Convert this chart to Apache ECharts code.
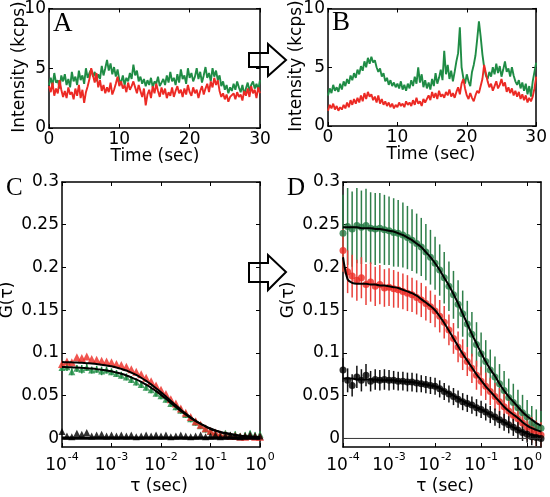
<!DOCTYPE html>
<html><head><meta charset="utf-8">
<script src="https://cdn.jsdelivr.net/npm/echarts@6/dist/echarts.min.js"></script>
<style>html,body{margin:0;padding:0;background:#fff}#c{width:550px;height:497px}</style>
</head><body><div id="c"></div>
<script>
// ---------- Panel A / B : intensity traces (kcps), sampled every 0.25 s from 0 to 30 s ----------
const timeStep = 0.25;
const timeTicks = [0, 10, 20, 30];
const intensityTicks = [0, 5, 10];
const greenA = [3.6,4.2,3.5,4.6,3.8,4.0,3.3,4.4,3.9,
 4.5,3.6,4.1,3.4,4.7,3.9,4.3,3.6,
 4.8,4.0,4.4,3.7,5.0,4.2,4.6,4.9,
 4.3,4.7,3.9,4.5,4.1,5.2,4.4,5.0,
 5.7,4.8,5.4,4.5,5.1,4.3,4.9,4.0,
 3.8,4.4,3.6,4.2,3.9,4.6,4.1,5.3,
 4.4,4.8,3.9,4.3,3.7,4.1,3.5,4.0,
 3.6,4.2,3.4,3.9,3.7,4.3,3.5,3.8,
 4.1,3.6,4.4,3.8,4.7,3.9,4.2,3.6,
 4.5,3.8,4.9,4.1,4.4,3.7,5.0,4.2,
 4.6,3.9,4.3,5.0,4.1,4.7,3.8,4.4,
 5.1,4.2,4.6,3.9,5.0,4.3,4.8,4.0,
 4.4,3.5,3.9,3.2,3.6,2.9,3.4,3.1,
 3.7,3.2,3.9,3.4,3.0,3.6,2.8,3.3,
 3.8,3.1,3.6,3.9,3.3,3.7,3.2,4.0];
const redA = [3.5,3.0,3.8,2.7,3.3,2.9,4.0,3.2,2.6,
 3.1,2.5,3.4,2.8,3.0,2.4,3.3,2.7,
 3.6,2.5,3.2,2.1,3.0,3.5,4.1,5.0,
 4.4,3.8,4.6,3.4,4.0,3.1,3.6,2.9,
 3.4,3.0,3.8,2.8,3.2,3.7,4.3,3.5,
 3.9,3.3,3.6,3.0,3.8,3.2,3.5,3.9,
 3.4,2.9,3.6,3.1,2.6,3.3,1.9,2.8,
 3.2,2.5,3.5,2.9,3.7,3.1,2.6,3.4,
 2.8,3.3,2.5,3.0,2.7,3.4,2.6,3.1,
 3.5,2.9,3.2,2.6,3.3,2.8,3.6,3.0,
 2.7,3.4,2.9,3.2,2.5,3.1,3.5,2.8,
 3.3,3.7,3.0,3.9,3.4,4.2,3.6,4.0,
 3.1,2.6,2.9,2.4,2.8,2.2,2.6,2.5,
 2.9,2.4,3.0,2.6,2.8,2.3,3.1,2.7,
 3.3,2.6,3.5,2.9,3.2,2.5,3.4,2.9];
const greenB = [2.6,3.2,2.8,3.5,3.0,3.3,2.9,3.6,3.1,
 3.8,3.4,4.0,3.6,4.3,3.9,4.5,4.1,
 4.8,4.4,5.1,4.7,5.5,5.0,5.8,5.3,
 5.9,5.4,5.6,5.0,4.6,4.9,4.2,4.5,
 3.8,4.1,3.5,3.9,3.4,3.7,3.3,3.6,
 3.2,3.8,3.1,3.5,3.0,3.6,3.2,3.9,
 3.4,4.2,3.6,5.0,3.7,4.4,3.3,3.9,
 3.2,3.7,3.1,4.0,3.4,4.5,3.6,4.1,
 4.8,3.9,6.4,4.4,5.2,4.0,4.7,3.8,
 4.6,5.5,6.2,8.4,5.0,4.1,3.6,4.4,
 3.8,3.4,4.6,5.2,6.0,7.4,8.9,7.6,
 6.1,5.0,4.3,4.0,4.6,4.2,5.0,4.4,
 5.3,4.5,5.1,4.2,4.8,5.5,4.6,4.9,
 4.2,5.0,4.3,3.8,3.5,3.9,3.2,3.7,
 3.0,3.6,2.7,3.4,2.5,3.8,4.6,5.4];
const redB = [1.3,1.8,1.5,1.9,1.4,1.7,1.3,1.6,1.4,
 1.8,1.5,2.0,1.6,2.2,1.8,2.3,1.9,
 2.4,2.0,2.6,2.1,2.8,2.3,2.9,2.5,
 2.7,2.2,2.5,2.0,2.6,1.9,2.3,1.8,
 2.1,1.7,2.0,1.6,1.9,1.5,1.8,1.6,
 2.0,1.7,1.9,1.6,2.1,1.8,2.0,1.7,
 2.2,1.8,2.4,1.9,2.1,1.7,2.3,2.0,
 2.1,2.6,2.2,2.9,2.4,2.8,2.3,3.0,
 2.5,2.7,2.4,2.9,2.6,3.1,2.5,2.8,
 2.4,2.9,3.3,2.7,3.6,4.0,3.2,2.6,
 2.3,2.8,2.4,2.1,2.6,3.0,2.8,3.4,
 4.0,5.2,4.5,3.8,3.3,3.6,3.0,3.4,
 3.8,3.2,3.5,4.0,3.4,3.7,2.9,3.3,
 2.8,3.2,2.6,3.0,2.5,2.9,2.3,2.7,
 2.2,2.6,2.0,2.4,2.1,2.5,3.2,4.2];

// ---------- Panel C / D : correlation curves ----------
const tauValues = [1e-4,1.26e-4,1.58e-4,2e-4,2.51e-4,3.16e-4,3.98e-4,5.01e-4,6.31e-4,7.94e-4,
 1e-3,1.26e-3,1.58e-3,2e-3,2.51e-3,3.16e-3,3.98e-3,5.01e-3,6.31e-3,7.94e-3,
 1e-2,1.26e-2,1.58e-2,2e-2,2.51e-2,3.16e-2,3.98e-2,5.01e-2,6.31e-2,7.94e-2,
 0.1,0.126,0.158,0.2,0.251,0.316,0.398,0.501,0.631,0.794,
 1,1.26,1.58,2];
const tauTicks = [1e-4,1e-3,1e-2,1e-1,1];
const gTicks = [0,0.05,0.1,0.15,0.2,0.25,0.3];

const redC = [0.087,0.090,0.089,0.095,0.094,0.096,0.093,0.092,0.091,0.090,
 0.089,0.087,0.086,0.084,0.081,0.078,0.075,0.071,0.067,0.062,
 0.057,0.052,0.046,0.041,0.035,0.030,0.025,0.020,0.016,0.012,
 0.009,0.007,0.005,0.004,0.003,0.003,0.002,0.002,0.003,0.002,0.002];
const greenC = [0.083,0.084,0.078,0.082,0.081,0.083,0.080,0.081,0.079,0.080,
 0.078,0.076,0.074,0.072,0.069,0.066,0.063,0.060,0.057,0.053,
 0.050,0.046,0.041,0.037,0.033,0.028,0.023,0.019,0.015,0.011,
 0.008,0.006,0.005,0.006,0.004,0.005,0.003,0.004,0.006,0.004,0.005];
const greenCErr = [0.004,0.005,0.004,0.004,0.005,0.004,0.004,0.004,0.005,0.004,
 0.004,0.004,0.004,0.004,0.004,0.004,0.004,0.004,0.004,0.004,
 0.004,0.004,0.004,0.004,0.004,0.004,0.004,0.004,0.004,0.004,
 0.003,0.003,0.003,0.003,0.003,0.003,0.003,0.003,0.003,0.003,0.003];
const blackC = [0.008,0.003,0.002,0.006,0.005,0.007,0.003,0.004,0.005,0.003,
 0.004,0.003,0.004,0.003,0.004,0.002,0.003,0.004,0.003,0.004,
 0.003,0.004,0.002,0.003,0.004,0.003,0.002,0.003,0.004,0.002,
 0.003,0.004,0.002,0.003,0.004,0.003,0.002,0.003,0.004,0.003,0.003];
const redCFit = [0.0894,0.0892,0.0890,0.0888,0.0885,0.0881,0.0876,0.0870,0.0862,0.0854,
 0.0844,0.0830,0.0814,0.0795,0.0771,0.0743,0.0710,0.0674,0.0633,0.0588,
 0.0540,0.0490,0.0438,0.0387,0.0337,0.0290,0.0247,0.0207,0.0172,0.0142,
 0.0117,0.0095,0.0077,0.0063,0.0051,0.0041,0.0033,0.0026,0.0021,0.0017,0.0013];
const greenCFit = [0.0835,0.0834,0.0832,0.0830,0.0826,0.0822,0.0817,0.0811,0.0803,0.0795,
 0.0785,0.0771,0.0756,0.0737,0.0715,0.0690,0.0661,0.0629,0.0593,0.0553,
 0.0510,0.0464,0.0416,0.0368,0.0322,0.0280,0.0240,0.0203,0.0170,0.0140,
 0.0110,0.0090,0.0073,0.0060,0.0049,0.0040,0.0032,0.0026,0.0021,0.0016,0.0012];
const blackCFit = [0.001,0.001];
const blackCFitTau = [1e-4,1];

const greenD = [0.240,0.248,0.245,0.249,0.247,0.249,0.246,0.245,0.246,0.244,
 0.243,0.241,0.240,0.238,0.235,0.232,0.228,0.224,0.218,0.212,
 0.205,0.197,0.188,0.178,0.168,0.157,0.146,0.134,0.122,0.110,
 0.099,0.090,0.080,0.072,0.064,0.056,0.048,0.042,0.036,0.030,
 0.025,0.018,0.014,0.012];
const greenDErr = [0.045,0.045,0.044,0.044,0.043,0.043,0.042,0.042,0.041,0.041,
 0.040,0.040,0.039,0.038,0.037,0.036,0.035,0.034,0.033,0.032,
 0.031,0.030,0.030,0.029,0.028,0.028,0.027,0.027,0.026,0.026,
 0.025,0.025,0.024,0.024,0.023,0.023,0.022,0.022,0.021,0.021,
 0.020,0.020,0.020,0.020];
const redD = [0.220,0.195,0.190,0.185,0.188,0.180,0.183,0.178,0.180,0.176,
 0.177,0.175,0.174,0.172,0.170,0.168,0.165,0.162,0.158,0.154,
 0.149,0.143,0.136,0.127,0.117,0.107,0.098,0.090,0.082,0.074,
 0.067,0.061,0.055,0.049,0.043,0.037,0.032,0.027,0.023,0.018,
 0.013,0.010,0.006,0.004];
const redDErr = [0.025,0.025,0.025,0.024,0.024,0.024,0.023,0.023,0.023,0.022,
 0.022,0.022,0.021,0.021,0.021,0.020,0.020,0.020,0.020,0.019,
 0.019,0.019,0.019,0.018,0.018,0.018,0.018,0.017,0.017,0.017,
 0.017,0.016,0.016,0.016,0.016,0.016,0.015,0.015,0.015,0.015,
 0.015,0.015,0.015,0.015];
const blackD = [0.080,0.068,0.062,0.072,0.068,0.074,0.067,0.069,0.068,0.069,
 0.068,0.068,0.067,0.067,0.066,0.066,0.065,0.064,0.063,0.062,
 0.061,0.058,0.055,0.052,0.049,0.046,0.043,0.041,0.039,0.036,
 0.034,0.031,0.028,0.025,0.022,0.019,0.016,0.013,0.010,0.007,
 0.005,0.002,0.001,0.000];
const blackDErr = [0.014,0.014,0.013,0.013,0.013,0.013,0.012,0.012,0.012,0.012,
 0.012,0.011,0.011,0.011,0.011,0.011,0.011,0.010,0.010,0.010,
 0.010,0.010,0.010,0.010,0.010,0.010,0.010,0.010,0.010,0.010,
 0.010,0.010,0.010,0.010,0.010,0.010,0.010,0.010,0.010,0.010,
 0.010,0.010,0.010,0.010];
const greenDFit = [0.247,0.247,0.247,0.247,0.246,0.246,0.246,0.245,0.245,0.244,
 0.243,0.242,0.240,0.238,0.235,0.232,0.228,0.224,0.218,0.212,
 0.205,0.197,0.188,0.179,0.169,0.158,0.146,0.134,0.122,0.111,
 0.100,0.090,0.081,0.073,0.064,0.056,0.049,0.043,0.037,0.031,
 0.026,0.022,0.018,0.015];
const redDFit = [0.212,0.186,0.182,0.181,0.181,0.181,0.180,0.180,0.179,0.179,
 0.178,0.177,0.176,0.174,0.172,0.170,0.167,0.163,0.159,0.155,
 0.150,0.143,0.135,0.126,0.117,0.108,0.099,0.091,0.083,0.075,
 0.068,0.061,0.055,0.049,0.043,0.037,0.032,0.028,0.024,0.019,
 0.015,0.012,0.010,0.008];
const blackDFit = [0.070,0.070,0.070,0.069,0.069,0.069,0.069,0.069,0.068,0.068,
 0.068,0.068,0.067,0.067,0.066,0.066,0.065,0.064,0.063,0.062,
 0.061,0.059,0.056,0.053,0.050,0.047,0.044,0.041,0.039,0.036,
 0.034,0.031,0.028,0.025,0.022,0.019,0.016,0.013,0.010,0.008,
 0.006,0.004,0.003,0.002];

// ---------- styling ----------
const FONT = 'DejaVu Sans';
const FS = 17;
const GREEN = '#1f8c45';
const RED = '#ec2a24';
const GREEN_D = '#237a44';
const GREEN_BAR = '#2f7f4a';
const RED_BAR = '#e8403a';
const G_MIN = -0.01, G_MAX = 0.3;

const chart = echarts.init(document.getElementById('c'), null, {renderer: 'canvas'});

function timePairs(arr) { return arr.map((v, i) => [i * timeStep, v]); }
function tauPairs(taus, vals) { return vals.map((v, i) => [taus[i], v]); }
function gFmt(v) { return String(+(+v).toFixed(2)); }
function logFmt(v) { const e = Math.round(Math.log10(v)); return '{b|10}{e|' + e + '}'; }

const axisLine = {show: true, onZero: false, lineStyle: {color: '#000', width: 1.5}};
const tick = {show: true, inside: true, length: 4, lineStyle: {color: '#000', width: 1}};
const lbl = {color: '#000', fontFamily: FONT, fontSize: FS};

function linX(grid, pos) {
  return {type: 'value', gridIndex: grid, position: pos, min: 0, max: 30, interval: 10,
    axisLine, axisTick: tick, splitLine: {show: false},
    axisLabel: pos === 'bottom' ? Object.assign({margin: 3}, lbl) : {show: false}};
}
function linY(grid, pos) {
  return {type: 'value', gridIndex: grid, position: pos, min: 0, max: 10, interval: 5,
    axisLine, axisTick: tick, splitLine: {show: false},
    axisLabel: pos === 'left' ? Object.assign({margin: 3}, lbl) : {show: false}};
}
function logX(grid, pos, max) {
  return {type: 'log', logBase: 10, gridIndex: grid, position: pos, min: 1e-4, max: max,
    axisLine, axisTick: Object.assign({customValues: tauTicks}, tick), splitLine: {show: false}, minorTick: {show: false},
    axisLabel: pos === 'bottom' ? {customValues: tauTicks, margin: 5, formatter: logFmt,
      rich: {b: {fontFamily: FONT, fontSize: FS, color: '#000', lineHeight: 22, verticalAlign: 'bottom'},
             e: {fontFamily: FONT, fontSize: 11, color: '#000', lineHeight: 22, verticalAlign: 'top', padding: [0, 0, 0, 1]}}}
      : {show: false}};
}
function gY(grid, pos) {
  return {type: 'value', gridIndex: grid, position: pos, min: G_MIN, max: G_MAX,
    axisLine, axisTick: Object.assign({customValues: gTicks}, tick), splitLine: {show: false},
    axisLabel: pos === 'left' ? Object.assign({customValues: gTicks, margin: 3, formatter: gFmt}, lbl) : {show: false}};
}

function errSeries(xi, taus, vals, errs, color, width) {
  return {type: 'custom', xAxisIndex: xi, yAxisIndex: xi, silent: true,
    data: vals.map((v, i) => [taus[i], Math.max(G_MIN, v - errs[i]), Math.min(G_MAX, v + errs[i])]),
    renderItem: (params, api) => {
      const p1 = api.coord([api.value(0), api.value(1)]);
      const p2 = api.coord([api.value(0), api.value(2)]);
      return {type: 'line', shape: {x1: p1[0], y1: p1[1], x2: p2[0], y2: p2[1]},
        style: {stroke: color, lineWidth: width}};
    }};
}
function pts(xi, taus, vals, color, symbol, size) {
  return {type: 'scatter', xAxisIndex: xi, yAxisIndex: xi, data: tauPairs(taus, vals),
    symbol, symbolSize: size, itemStyle: {color}, silent: true};
}
function fit(xi, taus, vals, width) {
  return {type: 'line', xAxisIndex: xi, yAxisIndex: xi, data: tauPairs(taus, vals), showSymbol: false,
    smooth: 0.3, lineStyle: {color: '#000', width: width || 2}, silent: true};
}
function trace(xi, arr, color) {
  return {type: 'line', xAxisIndex: xi, yAxisIndex: xi, data: timePairs(arr), showSymbol: false,
    lineStyle: {color, width: 1.9}, silent: true};
}

const t = (x, y, text) => ({type: 'text', x, y, style: {text, fill: '#000',
  font: FS + 'px "' + FONT + '"', align: 'center', verticalAlign: 'middle'}});
const vt = (x, y, text) => ({type: 'text', x, y, rotation: Math.PI / 2, style: {text, fill: '#000',
  font: FS + 'px "' + FONT + '"', align: 'center', verticalAlign: 'middle'}});
const letter = (x, y, text, size) => ({type: 'text', x, y, style: {text, fill: '#000',
  font: size + 'px "Liberation Serif"', align: 'left', verticalAlign: 'top'}});
const arrow = (pts) => ({type: 'polygon', shape: {points: pts}, style: {fill: '#fff', stroke: '#000', lineWidth: 2}});

chart.setOption({
  animation: false,
  backgroundColor: '#fff',
  grid: [
    {left: 49, top: 6, width: 211, height: 122},
    {left: 328, top: 5, width: 212, height: 121},
    {left: 62, top: 182, width: 198, height: 265},
    {left: 343, top: 182, width: 198, height: 265}
  ],
  xAxis: [
    linX(0, 'bottom'), linX(1, 'bottom'), logX(2, 'bottom', 1), logX(3, 'bottom', 2),
    linX(0, 'top'), linX(1, 'top'), logX(2, 'top', 1), logX(3, 'top', 2)
  ],
  yAxis: [
    linY(0, 'left'), linY(1, 'left'), gY(2, 'left'), gY(3, 'left'),
    linY(0, 'right'), linY(1, 'right'), gY(2, 'right'), gY(3, 'right')
  ],
  series: [
    trace(0, greenA, GREEN), trace(0, redA, RED),
    trace(1, greenB, GREEN), trace(1, redB, RED),
    // Panel C
    {type: 'line', xAxisIndex: 2, yAxisIndex: 2, data: [[1e-4, 0], [1, 0]], showSymbol: false,
      lineStyle: {color: '#000', width: 2.5}, silent: true},
    errSeries(2, tauValues, greenC, greenCErr, GREEN, 1.5),
    pts(2, tauValues, greenC, GREEN, 'triangle', 7),
    pts(2, tauValues, redC, RED, 'triangle', 8),
    pts(2, tauValues, blackC, '#000', 'triangle', 7),
    fit(2, tauValues, greenCFit), fit(2, tauValues, redCFit), fit(2, blackCFitTau, blackCFit),
    // Panel D
    {type: 'line', xAxisIndex: 3, yAxisIndex: 3, data: [[1e-4, 0], [2, 0]], showSymbol: false,
      lineStyle: {color: '#333', width: 1}, silent: true},
    errSeries(3, tauValues, greenD, greenDErr, GREEN_BAR, 1.5),
    pts(3, tauValues, greenD, GREEN_D, 'circle', 7),
    errSeries(3, tauValues, redD, redDErr, RED_BAR, 1.5),
    pts(3, tauValues, redD, RED, 'circle', 7),
    errSeries(3, tauValues, blackD, blackDErr, '#111', 1.5),
    pts(3, tauValues, blackD, '#000', 'circle', 7),
    fit(3, tauValues, greenDFit), fit(3, tauValues, redDFit), fit(3, tauValues, blackDFit)
  ],
  graphic: [
    letter(53, 10, 'A', 27), letter(332, 9, 'B', 27), letter(6, 176, 'C', 25), letter(287, 176, 'D', 25),
    vt(20, 67, 'Intensity (kcps)'), vt(297, 66, 'Intensity (kcps)'),
    t(155, 157, 'Time (sec)'), t(431, 155, 'Time (sec)'),
    vt(8, 300, 'G(τ)'), vt(289, 300, 'G(τ)'),
    t(159, 487, 'τ (sec)'), t(445, 487, 'τ (sec)'),
    arrow([[249, 53], [268, 53], [268, 44], [286, 60], [268, 76], [268, 67], [249, 67]]),
    arrow([[249, 263], [268, 263], [268, 255], [286, 272], [268, 290], [268, 282], [249, 282]])
  ]
});
</script></body></html>
